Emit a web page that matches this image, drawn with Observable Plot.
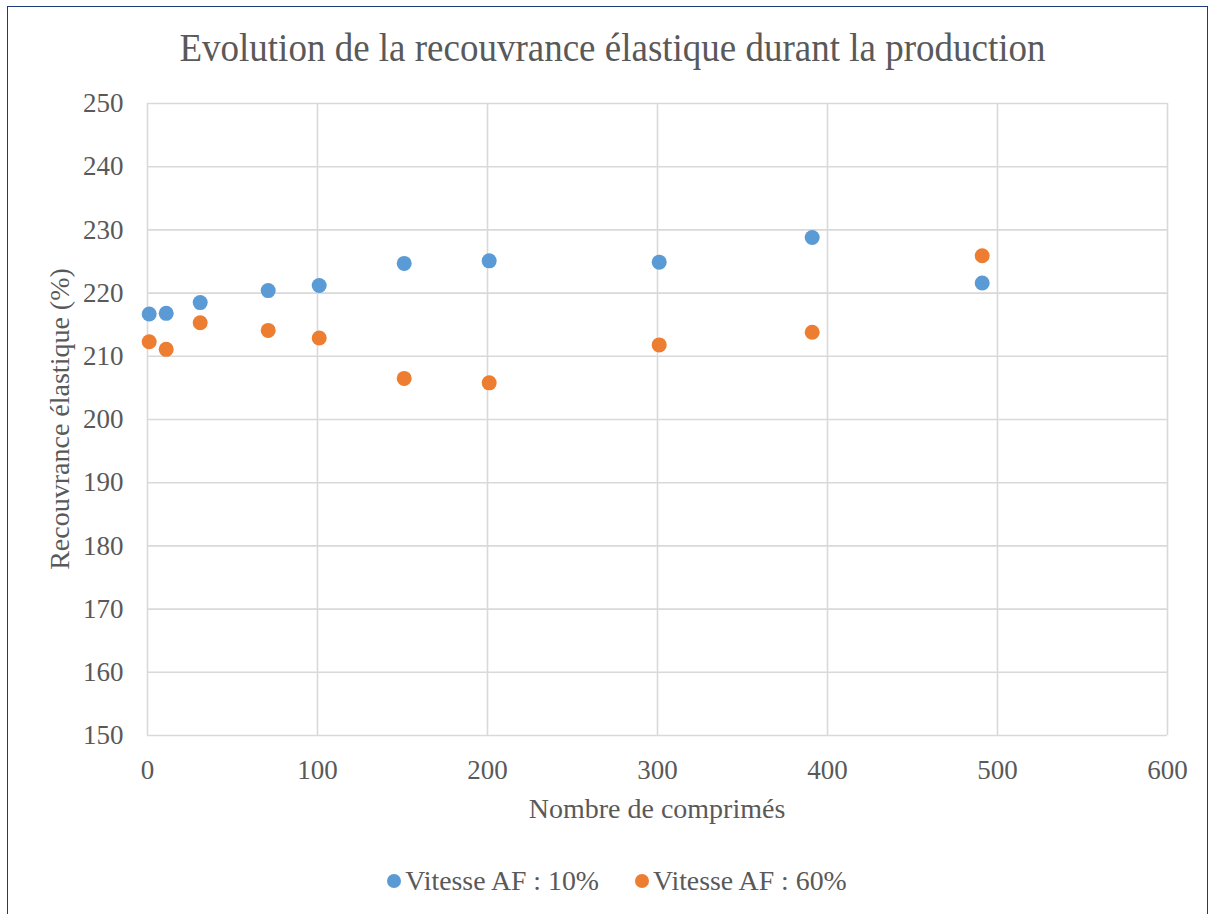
<!DOCTYPE html>
<html>
<head>
<meta charset="utf-8">
<script src="https://cdn.jsdelivr.net/npm/d3@7"></script>
<script src="https://cdn.jsdelivr.net/npm/@observablehq/plot@0.6"></script>
<style>
  html, body { margin: 0; padding: 0; background: #fff; width: 1214px; height: 914px; overflow: hidden; }
  #wrap { position: relative; width: 1214px; height: 914px; font-family: "Liberation Serif", "Times New Roman", serif; color: #595959; }
  #border { position: absolute; left: 7px; top: 6px; width: 1201px; height: 930px; border: 1.5px solid #1f3a78; box-sizing: border-box; }
  #chart { position: absolute; left: 0; top: 0; }
  .txt { position: absolute; white-space: nowrap; line-height: 1; }
  #title { left: 0; width: 1225px; text-align: center; top: 29px; font-size: 37px; transform: scaleY(1.08); }
  #xtitle { left: 0; width: 1314px; text-align: center; top: 795px; font-size: 28px; }
  #ytitle { left: 60px; top: 419px; font-size: 28px; transform: translate(-50%, -50%) rotate(-90deg); }
  #legend { left: 10px; top: 867px; width: 1214px; display: flex; justify-content: center; font-size: 27.8px; }
  .item { display: flex; align-items: center; margin: 0 18px; }
  .sw { width: 14px; height: 14px; border-radius: 50%; margin-right: 4px; }
</style>
</head>
<body>
<div id="wrap">
  <div id="border"></div>
  <div id="chart"></div>
  <div id="title" class="txt">Evolution de la recouvrance élastique durant la production</div>
  <div id="xtitle" class="txt">Nombre de comprimés</div>
  <div id="ytitle" class="txt">Recouvrance élastique (%)</div>
  <div id="legend" class="txt"></div>
</div>
<script>
const xValues = [1, 11, 31, 71, 101, 151, 201, 301, 391, 491];
const vitesse10 = [216.7, 216.8, 218.5, 220.4, 221.2, 224.7, 225.1, 224.9, 228.8, 221.6];
const vitesse60 = [212.3, 211.1, 215.3, 214.1, 212.9, 206.5, 205.8, 211.8, 213.8, 225.9];
const seriesNames = ["Vitesse AF : 10%", "Vitesse AF : 60%"];
const seriesColors = ["#5B9BD5", "#ED7D31"];
const xTicks = [0, 100, 200, 300, 400, 500, 600];
const yTicks = [150, 160, 170, 180, 190, 200, 210, 220, 230, 240, 250];

const data = [];
xValues.forEach((x, i) => data.push({x, y: vitesse10[i], s: seriesNames[0]}));
xValues.forEach((x, i) => data.push({x, y: vitesse60[i], s: seriesNames[1]}));

const chart = Plot.plot({
  width: 1214,
  height: 914,
  marginLeft: 147,
  marginRight: 47,
  marginTop: 103,
  marginBottom: 179,
  style: {fontFamily: '"Liberation Serif", "Times New Roman", serif', fontSize: "27px", color: "#595959", background: "transparent", overflow: "visible"},
  x: {domain: [0, 600]},
  y: {domain: [150, 250]},
  color: {domain: seriesNames, range: seriesColors},
  marks: [
    Plot.gridX(xTicks, {stroke: "#d9d9d9", strokeOpacity: 1, strokeWidth: 1.6}),
    Plot.gridY(yTicks, {stroke: "#d9d9d9", strokeOpacity: 1, strokeWidth: 1.6}),
    Plot.axisX(xTicks, {tickSize: 0, tickPadding: 24, label: null, fontSize: 27}),
    Plot.axisY(yTicks, {tickSize: 0, tickPadding: 24, label: null, fontSize: 27}),
    Plot.dot(data, {x: "x", y: "y", fill: "s", r: 7.5, stroke: "none"})
  ]
});
document.getElementById("chart").appendChild(chart);

const legend = document.getElementById("legend");
seriesNames.forEach((name, i) => {
  const item = document.createElement("div");
  item.className = "item";
  const sw = document.createElement("span");
  sw.className = "sw";
  sw.style.background = seriesColors[i];
  const t = document.createElement("span");
  t.textContent = name;
  item.appendChild(sw);
  item.appendChild(t);
  legend.appendChild(item);
});
</script>
</body>
</html>
